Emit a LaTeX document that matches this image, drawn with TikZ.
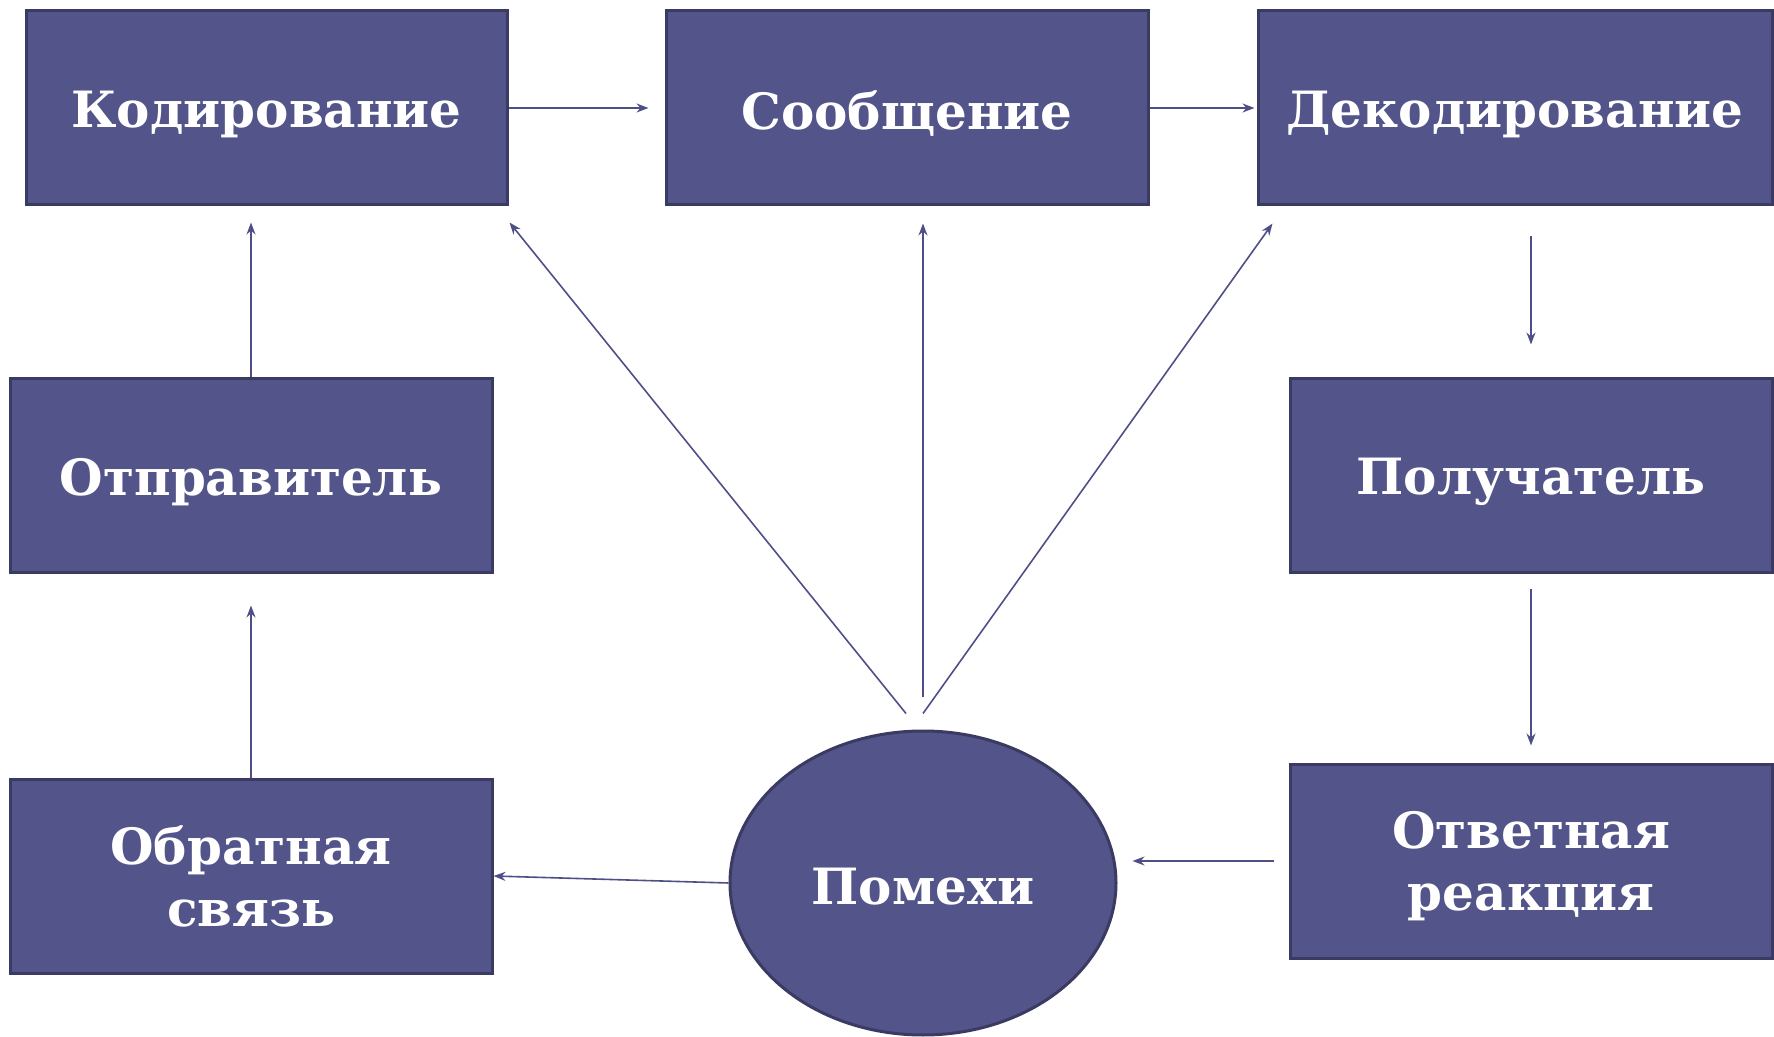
\documentclass[tikz,border=0pt]{standalone}
\usepackage{fontspec}
\setmainfont{DejaVu Serif}
\usetikzlibrary{arrows.meta,shapes.geometric,calc}
\definecolor{boxfill}{HTML}{53548A}
\definecolor{boxline}{HTML}{3A3A62}
\definecolor{arr}{HTML}{4F4F88}
\newcommand{\lowtext}[2][3pt]{\raisebox{-#1}[\height][\depth]{#2}}
\begin{document}
\begin{tikzpicture}[x=0.5pt,y=-0.5pt,
  box/.style={draw=boxline,fill=boxfill,line width=1.5pt,minimum width=241pt,
    minimum height=97pt,inner sep=0pt,text=white,
    font=\bfseries\fontsize{25}{31}\selectfont,align=center},
  oval/.style={ellipse,draw=boxline,fill=boxfill,line width=1.5pt,minimum width=193pt,
    minimum height=152pt,inner sep=0pt,text=white,
    font=\bfseries\fontsize{25}{31}\selectfont},
  conn/.style={draw=arr,line width=0.8pt,-{Stealth[length=6pt,width=4.5pt]}}]
\useasboundingbox (0,0) rectangle (1774,1037);
\node[box,minimum width=240.5pt] (kod) at (266.5,108) {\lowtext{Кодирование}};
\node[box] (soob) at (907,108) {\lowtext{Сообщение}};
\node[box,minimum width=257pt] (dekod) at (1515,108) {\lowtext{Декодирование}};
\node[box] (otp) at (251,476) {\lowtext{Отправитель}};
\node[box] (pol) at (1531,476) {\lowtext{Получатель}};
\node[box] (obr) at (251,876) {Обратная\\связь};
\node[box] (otv) at (1531,861) {\lowtext{\begin{tabular}{@{}c@{}}Ответная\\реакция\end{tabular}}};
\node[oval] (pom) at (923,883) {\lowtext[2pt]{Помехи}};
% connectors
\draw[conn,shorten >=8pt] (kod.east) -- (soob.west);
\draw[conn,shorten >=1pt] (soob.east) -- (dekod.west);
\draw[conn,shorten <=15pt,shorten >=16.5pt] (dekod.south -| pol.north) -- (pol.north);
\draw[conn,shorten <=7.5pt,shorten >=8.5pt] (pol.south) -- (otv.north);
\draw[conn,shorten <=7.5pt,shorten >=7.5pt] (otv.west) -- (otv.west -| pom.east);
\draw[conn] (pom.west) -- (obr.east);
\draw[conn,shorten >=15.5pt] (obr.north) -- (otp.south);
\draw[conn,shorten >=8pt] (otp.north) -- (otp.north |- kod.south);
\draw[conn] ([shift={(-17,-16)}]pom.north) -- ([shift={(1,16)}]kod.south east);
\draw[conn,shorten <=16pt,shorten >=8.5pt] (pom.north) -- (pom.north |- soob.south);
\draw[conn] ([shift={(0,-16)}]pom.north) -- ([shift={(16,17)}]dekod.south west);
\end{tikzpicture}
\end{document}
